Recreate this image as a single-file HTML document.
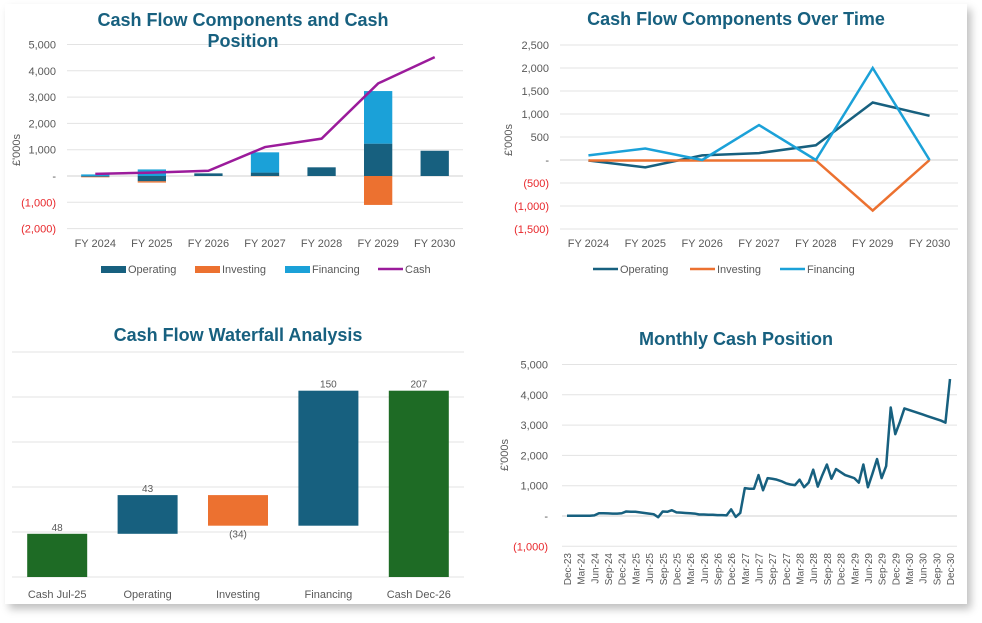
<!DOCTYPE html>
<html><head><meta charset="utf-8">
<style>
html,body{margin:0;padding:0;background:#fff;}
body{width:982px;height:623px;overflow:hidden;position:relative;font-family:"Liberation Sans",Arial,sans-serif;}
#card{position:absolute;left:5px;top:4px;width:962px;height:600px;background:#fff;box-shadow:4px 5px 8px rgba(0,0,0,0.25);}
svg{position:absolute;left:0;top:0;}
</style></head>
<body>
<div id="card"></div>
<svg id="s" width="982" height="623"></svg>
<script>
// ---- Chart 1 data ----
const c1Categories = ["FY 2024","FY 2025","FY 2026","FY 2027","FY 2028","FY 2029","FY 2030"];
const c1Operating = [-30,-200,100,130,330,1230,960];
const c1Investing = [-20,-50,0,-10,0,-1100,0];
const c1Financing = [60,250,0,770,0,2000,0];
const c1Cash = [80,130,200,1100,1420,3520,4520];
const c1Ticks = [5000,4000,3000,2000,1000,0,-1000,-2000];
// ---- Chart 2 data ----
const c2Categories = ["FY 2024","FY 2025","FY 2026","FY 2027","FY 2028","FY 2029","FY 2030"];
const c2Operating = [-10,-160,100,150,320,1250,960];
const c2Investing = [-10,-10,-10,-10,-10,-1100,0];
const c2Financing = [100,250,0,760,0,2000,0];
const c2Ticks = [2500,2000,1500,1000,500,0,-500,-1000,-1500];
// ---- Chart 3 data ----
const c3Categories = ["Cash Jul-25","Operating","Investing","Financing","Cash Dec-26"];
const c3Values = [48,43,-34,150,207];
const c3Labels = ["48","43","(34)","150","207"];
const c3Ticks = [0,50,100,150,200,250];
// ---- Chart 4 data ----
const c4Values = [10,10,10,10,10,10,20,90,90,85,80,80,90,150,140,140,120,100,80,60,-40,150,140,190,120,110,100,90,80,50,50,40,40,30,30,20,220,-30,100,920,900,900,1350,850,1250,1230,1200,1150,1080,1040,1020,1200,950,1100,1530,970,1350,1700,1230,1550,1450,1350,1300,1250,1100,1700,950,1400,1880,1250,1650,3580,2700,3100,3550,3500,3450,3400,3350,3300,3250,3200,3150,3080,4520];
const c4TickLabels = ["Dec-23","Mar-24","Jun-24","Sep-24","Dec-24","Mar-25","Jun-25","Sep-25","Dec-25","Mar-26","Jun-26","Sep-26","Dec-26","Mar-27","Jun-27","Sep-27","Dec-27","Mar-28","Jun-28","Sep-28","Dec-28","Mar-29","Jun-29","Sep-29","Dec-29","Mar-30","Jun-30","Sep-30","Dec-30"];
const c4Ticks = [5000,4000,3000,2000,1000,0,-1000];

const NS="http://www.w3.org/2000/svg";
const svg=document.getElementById('s');
function el(tag,attrs,parent,text){const e=document.createElementNS(NS,tag);for(const k in attrs)e.setAttribute(k,attrs[k]);if(text!==undefined)e.textContent=text;(parent||svg).appendChild(e);return e;}
function fmt(v){if(v===0)return "-";const s=Math.abs(v).toLocaleString('en-US');return v<0?"("+s+")":s;}
const OP="#17607f",INV="#ec7130",FIN="#1ba1d8",CASH="#9b1b9b",GRN="#1e6b25",TTL="#17607f",TXT="#595959",GRID="#e3e3e3";

function title(x,y,t,name){const e=el('text',{x:x,y:y,'text-anchor':'middle','font-size':'18','font-weight':'bold',fill:TTL},null,t);
}
function yTitle(x,y){const e=el('text',{x:x,y:y,'text-anchor':'middle','font-size':'11',fill:TXT,transform:`rotate(-90 ${x} ${y})`},null,"£'000s");
}
function yAxis(ticks,ys,x0,x1,labX){ticks.forEach(t=>{const y=ys(t);
const g=el('line',{x1:x0,x2:x1,y1:y,y2:y,stroke:t===0?"#d0d0d0":GRID,'stroke-width':1});

const l=el('text',{x:labX,y:y+4,'text-anchor':'end','font-size':'11',fill:t<0?"#e8272b":TXT},null,fmt(t));
});}
function legend(items,y){items.forEach(it=>{
const g=el('g',{});
if(it.line)el('line',{x1:it.x,x2:it.x+25,y1:y,y2:y,stroke:it.c,'stroke-width':2.5},g);
else el('rect',{x:it.x,y:y-3,width:25,height:7,fill:it.c},g);
el('text',{x:it.x+27,y:y+4,'font-size':'11',fill:TXT},g,it.t);});}

// ===== Chart 1 =====
(function(){
const x0=67,x1=463,n=c1Categories.length,bw=(x1-x0)/n;
const ys=v=>176-v*26.3/1000;const xc=i=>x0+bw*(i+0.5);
yTitle(20,150);yAxis(c1Ticks,ys,x0,x1,56);
const w=bw*0.5;
c1Categories.forEach((c,i)=>{
let pos=0,neg=0;
[[c1Operating[i],OP,'bar-operating'],[c1Investing[i],INV,'bar-investing'],[c1Financing[i],FIN,'bar-financing']].forEach(([v,col,nm])=>{
if(!v)return;let a,b;if(v>0){a=pos;b=pos+v;pos=b;}else{a=neg;b=neg+v;neg=b;}
const r=el('rect',{x:xc(i)-w/2,y:Math.min(ys(a),ys(b)),width:w,height:Math.abs(ys(a)-ys(b)),fill:col});
});
const t=el('text',{x:xc(i),y:247,'text-anchor':'middle','font-size':'11',fill:TXT},null,c);
});
const p=el('polyline',{points:c1Cash.map((v,i)=>xc(i)+","+ys(v)).join(" "),fill:'none',stroke:CASH,'stroke-width':2.5});

legend([{x:101,c:OP,t:"Operating"},{x:195,c:INV,t:"Investing"},{x:285,c:FIN,t:"Financing"},{x:378,c:CASH,t:"Cash",line:true}],269);
title(243,26,"Cash Flow Components and Cash","chart1-title");title(243,47,"Position","chart1-title");
})();

// ===== Chart 2 =====
(function(){
const x0=560,x1=958,n=c2Categories.length,bw=(x1-x0)/n;
const ys=v=>160-v*23/500;const xc=i=>x0+bw*(i+0.5);
yTitle(512,140);yAxis(c2Ticks,ys,x0,x1,549);
c2Categories.forEach((c,i)=>{const t=el('text',{x:xc(i),y:247,'text-anchor':'middle','font-size':'11',fill:TXT},null,c);
});
[[c2Operating,OP,'operating-line'],[c2Investing,INV,'investing-line'],[c2Financing,FIN,'financing-line']].forEach(([d,col,nm])=>{
const p=el('polyline',{points:d.map((v,i)=>xc(i)+","+ys(v)).join(" "),fill:'none',stroke:col,'stroke-width':2.5});
});
legend([{x:593,c:OP,t:"Operating",line:true},{x:690,c:INV,t:"Investing",line:true},{x:780,c:FIN,t:"Financing",line:true}],269);
title(736,25,"Cash Flow Components Over Time","chart2-title");
})();

// ===== Chart 3 =====
(function(){
const x0=12,x1=464,n=c3Categories.length,bw=(x1-x0)/n;
const ys=v=>577-v*0.9;const xc=i=>x0+bw*(i+0.5);
c3Ticks.forEach(t=>{const g=el('line',{x1:x0,x2:x1,y1:ys(t),y2:ys(t),stroke:GRID,'stroke-width':1});
});
let run=0;const w=60;
c3Values.forEach((v,i)=>{
const total=(i===0||i===n-1);let a,b,col;
if(total){a=0;b=v;col=GRN;run=v;}else{a=run;b=run+v;run=b;col=v<0?INV:OP;}
const r=el('rect',{x:xc(i)-w/2,y:Math.min(ys(a),ys(b)),width:w,height:Math.abs(ys(a)-ys(b)),fill:col});

const ly=v<0?ys(b)+12:ys(Math.max(a,b))-3;
const l=el('text',{x:xc(i),y:ly,'text-anchor':'middle','font-size':'10',fill:TXT},null,c3Labels[i]);

const t=el('text',{x:xc(i),y:598,'text-anchor':'middle','font-size':'11',fill:TXT},null,c3Categories[i]);
});
title(238,341,"Cash Flow Waterfall Analysis","chart3-title");
})();

// ===== Chart 4 =====
(function(){
const x0=562,x1=957;const ys=v=>516-v*30.3/1000;
const xs=i=>567+i*(950-567)/(c4Values.length-1);
yTitle(508,455);yAxis(c4Ticks,ys,x0,x1,548);
c4TickLabels.forEach((lab,k)=>{const x=xs(k*3);
const t=el('text',{x:x+4,y:553,'text-anchor':'end','font-size':'10',fill:TXT,transform:`rotate(-90 ${x+4} 553)`},null,lab);
});
const p=el('polyline',{points:c4Values.map((v,i)=>xs(i)+","+ys(v)).join(" "),fill:'none',stroke:OP,'stroke-width':2.5,'stroke-linejoin':'round'});

title(736,345,"Monthly Cash Position","chart4-title");
})();
</script>
</body></html>
